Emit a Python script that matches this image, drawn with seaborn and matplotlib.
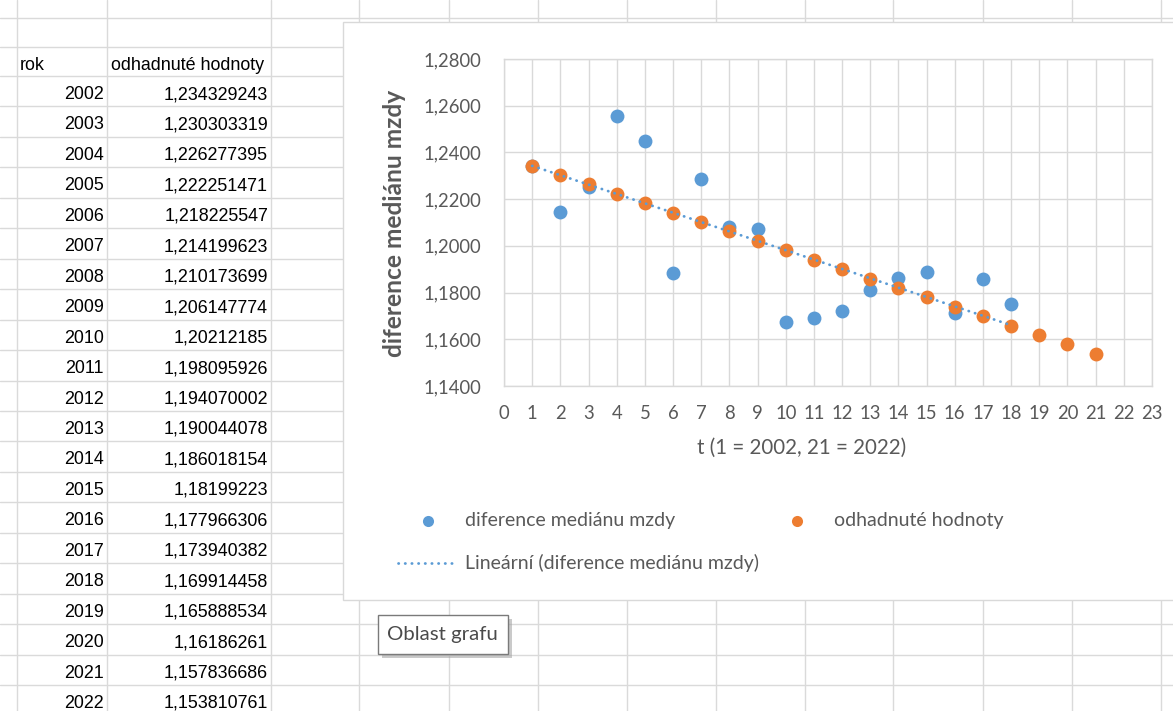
import matplotlib
matplotlib.use("Agg")
import matplotlib.pyplot as plt
import seaborn as sns
from matplotlib.patches import Rectangle
from matplotlib.lines import Line2D
from matplotlib.ticker import MultipleLocator, FuncFormatter

# ---------------- data ----------------
years = [2002, 2003, 2004, 2005, 2006, 2007, 2008, 2009, 2010, 2011, 2012,
         2013, 2014, 2015, 2016, 2017, 2018, 2019, 2020, 2021, 2022]
t_estimated = [1, 2, 3, 4, 5, 6, 7, 8, 9, 10, 11, 12, 13, 14, 15, 16, 17, 18, 19, 20, 21]
estimated = [1.234329243, 1.230303319, 1.226277395, 1.222251471, 1.218225547,
             1.214199623, 1.210173699, 1.206147774, 1.20212185, 1.198095926,
             1.194070002, 1.190044078, 1.186018154, 1.18199223, 1.177966306,
             1.173940382, 1.169914458, 1.165888534, 1.16186261, 1.157836686,
             1.153810761]
estimated_text = ["1,234329243", "1,230303319", "1,226277395", "1,222251471",
                  "1,218225547", "1,214199623", "1,210173699", "1,206147774",
                  "1,20212185", "1,198095926", "1,194070002", "1,190044078",
                  "1,186018154", "1,18199223", "1,177966306", "1,173940382",
                  "1,169914458", "1,165888534", "1,16186261", "1,157836686",
                  "1,153810761"]
t_observed = [1, 2, 3, 4, 5, 6, 7, 8, 9, 10, 11, 12, 13, 14, 15, 16, 17, 18]
observed = [1.2340, 1.2145, 1.2251, 1.2557, 1.2447, 1.1885, 1.2285, 1.2079,
            1.2072, 1.1676, 1.1689, 1.1723, 1.1809, 1.1861, 1.1887, 1.1714,
            1.1858, 1.1749]

label_obs = "diference mediánu mzdy"
label_est = "odhadnuté hodnoty"
label_trend = "Lineární (diference mediánu mzdy)"

BLUE = "#5B9BD5"
ORANGE = "#ED7D31"
TXT = "#595959"
SHEET_GRID = "#dadada"

W, H = 1173, 711
sns.set_theme(style="white")
CHART_FONT = ["Lato", "DejaVu Sans"]
SHEET_FONT = ["Liberation Sans", "DejaVu Sans"]
plt.rcParams["font.family"] = CHART_FONT

fig = plt.figure(figsize=(W / 100, H / 100), dpi=100)
fig.patch.set_facecolor("white")
renderer = fig.canvas.get_renderer()


def fx(x):
    return x / W


def fy(y):
    return 1 - y / H


def fit(text, target_px, **kw):
    tt = fig.text(0, 0, text, fontsize=20, **kw)
    w = tt.get_window_extent(renderer).width
    tt.remove()
    return 20 * target_px / w


# ---------------- spreadsheet background ----------------
for x in [17, 107, 271, 359, 449, 538, 627, 716, 805, 893, 983, 1072, 1161]:
    fig.add_artist(Line2D([fx(x), fx(x)], [0, 1], color=SHEET_GRID, lw=1, zorder=-5))
row_tops = [18, 47] + [76 + 30.45 * k for k in range(22)]
for y in row_tops:
    fig.add_artist(Line2D([0, 1], [fy(y), fy(y)], color=SHEET_GRID, lw=1, zorder=-5))

sheet_fs = fit("odhadnuté hodnoty", 152, family=SHEET_FONT)
fig.text(fx(20), fy(65), "rok", ha="left", va="center", fontsize=sheet_fs,
         family=SHEET_FONT, color="black")
fig.text(fx(111), fy(65), "odhadnuté hodnoty", ha="left", va="center",
         fontsize=sheet_fs, family=SHEET_FONT, color="black")
for k, (yr, val) in enumerate(zip(years, estimated_text)):
    yc = 76 + 30.45 * k + 18.5
    fig.text(fx(104), fy(yc), str(yr), ha="right", va="center",
             fontsize=sheet_fs, family=SHEET_FONT, color="black")
    fig.text(fx(268), fy(yc), val, ha="right", va="center",
             fontsize=sheet_fs, family=SHEET_FONT, color="black")

# ---------------- chart box ----------------
fig.add_artist(Rectangle((fx(343), fy(600)), fx(1190) - fx(343), (600 - 22) / H,
                         facecolor="white", edgecolor="#d9d9d9", lw=1, zorder=-1))

# ---------------- axes ----------------
ax = fig.add_axes([fx(504), fy(386), (1152 - 504) / W, (386 - 59) / H])
ax.set_facecolor("white")

sns.scatterplot(x=t_observed, y=observed, color=BLUE, s=100, linewidth=0,
                label=label_obs, ax=ax, zorder=3, legend=False)
sns.scatterplot(x=t_estimated, y=estimated, color=ORANGE, s=100, linewidth=0,
                label=label_est, ax=ax, zorder=4, legend=False)
sns.regplot(x=t_observed, y=observed, scatter=False, ci=None, truncate=True,
            color=BLUE, label=label_trend, ax=ax,
            line_kws=dict(linestyle=(0, (0.1, 2.3)), lw=2.0,
                          dash_capstyle="round", zorder=5))

ax.set_xlim(0, 23)
ax.set_ylim(1.14, 1.28)
ax.xaxis.set_major_locator(MultipleLocator(1))
ax.yaxis.set_major_locator(MultipleLocator(0.02))
ax.yaxis.set_major_formatter(FuncFormatter(lambda v, p: f"{v:.4f}".replace(".", ",")))
ax.grid(True, color="#d9d9d9", lw=1)
ax.set_axisbelow(True)
for s in ax.spines.values():
    s.set_color("#d9d9d9")
    s.set_linewidth(1)
ax.set_xlabel("")
ax.set_ylabel("")

tick_fs = fit("1,2800", 58)
ax.tick_params(axis="both", length=0, labelsize=tick_fs, labelcolor=TXT)
ax.tick_params(axis="y", pad=16.5)
ax.tick_params(axis="x", pad=14)

xl_fs = fit("t (1 = 2002, 21 = 2022)", 209)
fig.text(fx(802), fy(448), "t (1 = 2002, 21 = 2022)", ha="center", va="center",
         fontsize=xl_fs, color=TXT)
yl_fs = fit(label_obs, 267, weight="bold")
fig.text(fx(395), fy(223), label_obs, ha="center", va="center", rotation=90,
         fontsize=yl_fs, color=TXT, weight="bold")

# ---------------- legend ----------------
leg_fs = fit(label_obs, 210)
leg_px = leg_fs * 100 / 72
w_long = fit(label_trend, 100)
w_long_px = 100 * leg_fs / w_long  # width in px of longest label at leg_fs
handles, labels = ax.get_legend_handles_labels()
hmap = dict(zip(labels, handles))
order = [label_obs, label_trend, label_est]
colsp = (767 - (465 + w_long_px)) / leg_px
fig.legend([hmap[l] for l in order], order, loc="upper left",
           bbox_to_anchor=(fx(398), fy(512)), ncol=2, frameon=False,
           fontsize=leg_fs, labelcolor=TXT, handlelength=60 / leg_px,
           handletextpad=7 / leg_px, columnspacing=colsp,
           labelspacing=1.3, borderpad=0, borderaxespad=0,
           markerscale=0.8, scatterpoints=1)

# ---------------- tooltip ----------------
fig.add_artist(Rectangle((fx(382), fy(658)), 130 / W, 39 / H,
                         facecolor="#a0a0a0", edgecolor="none", alpha=0.55, zorder=9))
fig.add_artist(Rectangle((fx(378), fy(654)), 130 / W, 39 / H,
                         facecolor="white", edgecolor="#7a7a7a", lw=1, zorder=10))
tip_fs = fit("Oblast grafu", 111)
fig.text(fx(387), fy(634.5), "Oblast grafu", ha="left", va="center",
         fontsize=tip_fs, color="#4a4a4a", zorder=11)

fig.savefig("out.png", dpi=100, facecolor="white")
